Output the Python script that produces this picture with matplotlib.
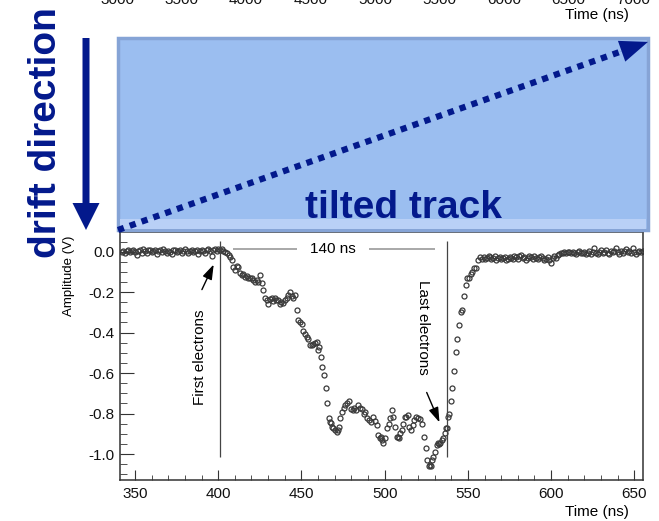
import numpy as np
import matplotlib
matplotlib.use("Agg")
import matplotlib.pyplot as plt
from matplotlib.patches import Rectangle, FancyArrow
from matplotlib.ticker import MultipleLocator

plt.rcParams['font.family'] = ['Liberation Sans', 'DejaVu Sans']
plt.rcParams['axes.unicode_minus'] = False

# baseline before the pulse, sampled every 1 ns (342..402 ns)
t_pre = np.arange(342, 403)
v_pre = [0.000, 0.005, -0.005, 0.002, 0.008, -0.003, 0.004, 0.010, -0.002, -0.018,
         0.003, 0.008, -0.006, 0.012, 0.001, -0.008, 0.006, 0.010, -0.004, 0.002,
         0.009, -0.010, 0.004, 0.007, -0.002, 0.011, 0.003, -0.007, 0.005, 0.000,
         -0.012, 0.006, 0.010, -0.003, 0.004, 0.008, -0.005, 0.002, 0.012, 0.005,
         -0.008, 0.003, 0.009, -0.004, 0.001, 0.007, -0.010, 0.004, 0.010, 0.002,
         -0.006, 0.008, 0.013, 0.003, -0.022, 0.006, 0.012, 0.004, 0.015, 0.010,
         0.012]

# pulse region, points
t_pulse = [403.0, 404.0, 405.2, 406.2, 407.0, 408.2, 408.8, 410.0, 411.0, 411.8,
           413.0, 414.2, 415.0, 416.0, 417.0, 417.8, 419.0, 420.2, 421.0, 422.0,
           423.2, 424.0, 425.0, 426.2, 426.8, 428.0, 429.2, 429.8, 431.0, 432.2,
           433.0, 434.0, 435.0, 435.8, 437.0, 438.0, 438.8, 440.0, 441.2, 442.0,
           443.0, 444.2, 444.8, 446.0, 447.2, 447.8, 449.0, 450.2, 450.8, 452.0,
           453.2, 453.8, 455.0, 456.2, 457.0, 458.0, 459.2, 459.8, 460.5, 461.6,
           462.2, 463.4, 464.6, 465.2, 466.4, 467.0, 467.6, 468.2, 469.0, 470.0,
           471.2, 472.0, 472.4, 473.0, 474.2, 475.4, 476.2, 477.2, 478.4, 479.6,
           480.8, 481.6, 482.6, 483.8, 485.0, 486.2, 487.4, 488.2, 489.2, 490.4,
           491.6, 492.8, 494.0, 495.2, 495.8, 497.0, 497.6, 498.2, 498.8, 500.0,
           501.2, 502.4, 503.0, 504.2, 504.8, 506.0, 507.2, 507.8, 508.4, 509.0,
           510.2, 510.8, 512.0, 512.6, 513.8, 514.4, 515.6, 516.8, 517.8, 518.6,
           519.8, 521.0, 522.2, 523.4, 524.6, 525.2, 526.4, 527.0, 527.6, 528.2,
           528.8, 530.0, 531.2, 531.8, 532.4, 533.0, 534.2, 534.8, 536.0, 536.6,
           537.2, 537.8, 538.6, 539.6, 540.2, 541.4, 542.6, 543.2, 544.4, 545.6,
           546.2, 547.4, 548.6, 549.2, 550.4, 551.6, 552.2, 553.4, 554.6, 555.8,
           557.0, 558.2, 559.4, 560.0, 561.2, 562.4]
v_pulse = [0.005, 0.000, -0.007, -0.015, -0.026, -0.040, -0.075, -0.090, -0.070, -0.078,
           -0.105, -0.115, -0.112, -0.125, -0.122, -0.130, -0.128, -0.132, -0.138, -0.150,
           -0.140, -0.148, -0.115, -0.155, -0.190, -0.230, -0.240, -0.260, -0.235, -0.230,
           -0.245, -0.230, -0.238, -0.240, -0.260, -0.250, -0.255, -0.240, -0.230, -0.215,
           -0.200, -0.220, -0.228, -0.215, -0.290, -0.340, -0.350, -0.355, -0.390, -0.405,
           -0.420, -0.430, -0.460, -0.462, -0.455, -0.450, -0.445, -0.485, -0.470, -0.520,
           -0.570, -0.610, -0.675, -0.750, -0.820, -0.840, -0.845, -0.865, -0.872, -0.880,
           -0.890, -0.880, -0.865, -0.820, -0.790, -0.770, -0.760, -0.750, -0.740, -0.775,
           -0.780, -0.770, -0.780, -0.760, -0.770, -0.775, -0.800, -0.790, -0.820, -0.830,
           -0.840, -0.815, -0.835, -0.855, -0.905, -0.920, -0.915, -0.930, -0.945, -0.920,
           -0.870, -0.850, -0.820, -0.780, -0.815, -0.865, -0.915, -0.915, -0.920, -0.895,
           -0.880, -0.850, -0.815, -0.815, -0.805, -0.865, -0.880, -0.855, -0.830, -0.815,
           -0.820, -0.825, -0.850, -0.915, -0.970, -1.030, -1.060, -1.055, -1.060, -1.030,
           -1.015, -0.990, -0.955, -0.945, -0.950, -0.945, -0.930, -0.920, -0.895, -0.870,
           -0.870, -0.815, -0.800, -0.740, -0.675, -0.590, -0.495, -0.430, -0.360, -0.300,
           -0.290, -0.220, -0.165, -0.130, -0.130, -0.110, -0.100, -0.080, -0.080, -0.040,
           -0.026, -0.036, -0.028, -0.035, -0.030, -0.020]

# baseline after the pulse, every 1 ns (563..655 ns)
t_post = np.arange(563, 656)
v_post = [-0.025, -0.035, -0.030, -0.022, -0.040, -0.030, -0.025, -0.038, -0.032, -0.028,
          -0.042, -0.035, -0.025, -0.030, -0.038, -0.020, -0.028, -0.035, -0.022, -0.018,
          -0.030, -0.025, -0.040, -0.032, -0.022, -0.028, -0.036, -0.024, -0.030, -0.038,
          -0.026, -0.020, -0.032, -0.042, -0.035, -0.028, -0.040, -0.056, -0.030, -0.022,
          -0.030, -0.018, -0.010, -0.005, -0.008, -0.002, -0.006, -0.004, 0.000, -0.008,
          -0.003, -0.006, -0.010, -0.002, 0.002, -0.005, -0.009, -0.004, -0.012, -0.006,
          0.004, -0.010, -0.004, 0.020, -0.006, -0.012, -0.002, 0.006, -0.008, -0.004,
          0.010, -0.006, -0.012, 0.002, -0.004, 0.005, 0.018, -0.002, -0.010, 0.004,
          -0.006, 0.003, 0.015, -0.004, 0.002, -0.008, 0.020, -0.003, -0.012, -0.004,
          0.002, 0.000, 0.004]

t_first, t_last = 401, 537.4
top_ticks = [3000, 3500, 4000, 4500, 5000, 5500, 6000, 6500, 7000]

navy = '#03198C'
W, H = 659, 521
fig = plt.figure(figsize=(W / 100, H / 100), dpi=100)

# ---- lower plot: signal amplitude
ax = fig.add_axes([120 / W, 1 - 480 / H, 523 / W, 248 / H])
t_all = np.concatenate([t_pre, t_pulse, t_post])
v_all = np.concatenate([v_pre, v_pulse, v_post])
ax.plot(t_all, v_all, 'o', ms=3.6, mfc='none', mec='#3a3a3a', mew=0.9)
ax.set_xlim(341, 655.2)
ax.set_ylim(-1.128, 0.097)
ax.xaxis.set_major_locator(MultipleLocator(50))
ax.xaxis.set_minor_locator(MultipleLocator(10))
ax.yaxis.set_major_locator(MultipleLocator(0.2))
ax.yaxis.set_minor_locator(MultipleLocator(0.05))
ax.yaxis.set_major_formatter(lambda v, _: f"{v:.1f}")
ax.tick_params(which='both', direction='in', colors='#333333', labelcolor='#111111',
               labelsize=11)
ax.tick_params(axis='x', which='major', length=7, pad=5)
ax.tick_params(axis='x', which='minor', length=3.5)
ax.tick_params(axis='y', which='major', length=10, pad=4)
ax.tick_params(axis='y', which='minor', length=5)
for s in ax.spines.values():
    s.set_color('#333333')
    s.set_linewidth(1.1)

ax.vlines([t_first, t_last], -1.015, 0.055, color='#444444', lw=0.9)
ax.hlines(0.011, 408.8, 447.2, color='#999999', lw=1.2)
ax.hlines(0.011, 490.4, 530.0, color='#999999', lw=1.2)
ax.text(468.8, 0.012, '140 ns', ha='center', va='center', fontsize=11)
ax.text(389, -0.757, 'First electrons', rotation=90, ha='center', va='bottom',
        fontsize=11)
ax.text(522.8, -0.141, 'Last electrons', rotation=270, ha='center', va='top',
        fontsize=11)
ax.annotate('', xy=(398, -0.051), xytext=(389.5, -0.2),
            arrowprops=dict(arrowstyle='-|>,head_length=0.9,head_width=0.3',
                            color='black', lw=1))
ax.annotate('', xy=(533.6, -0.856), xytext=(524.6, -0.683),
            arrowprops=dict(arrowstyle='-|>,head_length=0.9,head_width=0.3',
                            color='black', lw=1))
fig.text(69 / W, 1 - 276 / H, 'Amplitude (V)', rotation=90, ha='center',
         va='center', fontsize=9.5)
fig.text(597 / W, 1 - 512 / H, 'Time (ns)', ha='center', va='center', fontsize=11)

# ---- remnant of the upper plot (cut off at the top edge)
axt = fig.add_axes([117 / W, 1 + 7 / H, 516 / W, 0.05])
axt.set_xlim(top_ticks[0], top_ticks[-1])
axt.set_xticks(top_ticks)
axt.set_yticks([])
axt.tick_params(axis='x', length=0, pad=0, labelsize=11, labelcolor='#111111')
for s in axt.spines.values():
    s.set_visible(False)
axt.patch.set_alpha(0)
fig.text(597 / W, 1 - 15 / H, 'Time (ns)', ha='center', va='center', fontsize=11)

# ---- overlay in pixel coordinates: drift box, track, labels
ov = fig.add_axes([0, 0, 1, 1], zorder=5)
ov.set_xlim(0, W)
ov.set_ylim(H, 0)
ov.axis('off')
ov.patch.set_alpha(0)

ov.add_patch(Rectangle((118, 38), 530, 192, fc='#9BBEF0', ec='#86A4D6', lw=2.5))
ov.add_patch(Rectangle((120, 219), 526, 9.5, fc='#B9D0F6', ec='none'))

ov.plot([118, 628], [230, 49], color=navy, lw=4.5, ls=(0, (1, 1)),
        dash_capstyle='butt', solid_capstyle='butt')
ov.add_patch(FancyArrow(620, 51.8, 28, -9.9, width=0.1, head_width=22,
                        head_length=28, length_includes_head=True, color=navy, lw=0))
ov.add_patch(FancyArrow(86, 38, 0, 192, width=7, head_width=27, head_length=27,
                        length_includes_head=True, color=navy, lw=0))

ov.text(305, 218, 'tilted track', fontsize=28, fontweight='bold', color=navy,
        ha='left', va='baseline')
ov.text(46, 258, 'drift direction', fontsize=28, fontweight='bold', color=navy,
        rotation=90, ha='center', va='bottom')

fig.savefig('out.png', dpi=100)
